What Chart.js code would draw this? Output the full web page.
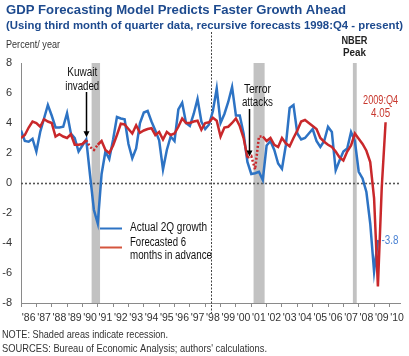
<!DOCTYPE html>
<html><head><meta charset="utf-8">
<script src="https://cdn.jsdelivr.net/npm/chart.js@4.4.1/dist/chart.umd.min.js"></script>
<style>html,body{margin:0;padding:0;background:#fff}#wrap{width:409px;height:356px;position:relative}</style>
</head><body><div id="wrap"><canvas id="c" width="409" height="356"></canvas></div>
<script>
// ---------- DATA ----------
const startYear = 1986;
const quarters = [];
for (let y = 1986; y <= 2009; y++) for (let q = 1; q <= 4; q++) quarters.push(y + ':Q' + q);

const actual2Q = [
  3.5, 2.8, 2.75, 2.95,   2.1, 3.4, 4.3, 5.2,    4.5, 3.7, 3.7, 3.75,   4.65, 3.3, 3.0, 2.1,
  2.5, 2.9, 0.5, -1.8,    -2.7, 0.6, 2.1, 1.6,   2.9, 4.4, 4.3, 4.25,   2.6, 1.65, 2.3, 4.0,
  4.7, 4.8, 4.1, 3.5,     2.85, 0.9, 2.2, 3.1,   2.8, 4.9, 5.35, 4.0,   3.8, 4.6, 5.6, 4.1,
  3.6, 3.9, 4.8, 6.3,     4.0, 4.6, 5.4, 6.4,    4.5, 4.5, 3.3, 1.4,    0.6, 0.65, 0.75, 0.2,
  2.5, 2.8, 2.2, 1.3,     0.95, 2.5, 5.0, 5.2,   3.3, 2.9, 3.0, 3.3,    3.6, 2.8, 2.4, 2.8,
  3.75, 3.4, 0.85, 1.5,   2.1, 2.3, 3.4, 2.8,    0.75, 0.3, -0.6, -2.7, -5.9, -3.8
];
const forecast6m = [
  3.0, 3.2, 3.7, 4.1,     4.0, 3.75, 4.25, 4.1,  4.0, 3.1, 3.25, 3.1,   3.0, 3.25, 2.55, 2.55,
  2.6, 2.85, 2.4, 2.2,    2.55, 2.8, 2.2, 2.0,   2.5, 3.2, 3.95, 3.9,   3.6, 3.3, 3.85, 3.35,
  3.5, 3.6, 3.65, 3.2,    3.4, 2.9, 3.4, 3.2,    3.3, 3.75, 4.3, 4.0,   4.0, 4.1, 4.15, 3.55,
  4.0, 4.05, 4.35, 4.15,  3.1, 3.7, 3.75, 4.0,   4.3, 3.8, 3.0, 1.7,    1.8, 0.9, 3.1, 3.1,
  2.8, 3.0, 2.55, 2.4,    3.0, 2.65, 2.45, 3.0,  3.5, 4.1, 4.2, 4.0,    3.8, 3.6, 3.0, 2.75,
  2.55, 2.4, 2.1, 1.7,    1.5, 2.1, 2.5, 3.3,    2.95, 2.6, 2.15, 1.4,  -1.0, -6.9, -0.3, 4.05
];
// forecast quarters drawn dotted (Kuwait invasion, terror attacks): [firstIndex, lastIndex]
const dottedForecastRanges = [[17, 20], [59, 63]];
// recessions (shaded), in fractional years
const recessions = [[1990.6, 1991.15], [2001.15, 2001.87], [2007.62, 2007.87]];
const forecastStart = 1998.37;
const xTickLabels = ["'86","'87","'88","'89","'90","'91","'92","'93","'94","'95","'96","'97","'98","'99","'00","'01","'02","'03","'04","'05","'06","'07","'08","'09","'10"];
const yTicks = [-8, -6, -4, -2, 0, 2, 4, 6, 8];
const lastActualLabel = '-3.8';
const lastForecastLabel = ['2009:Q4', '4.05'];

// ---------- BUILD ----------
const qToX = s => { const [y, q] = s.split(':Q'); return +y + (+q - 1) / 4; };
const blueData = actual2Q.map((v, i) => ({ x: qToX(quarters[i]), y: v }));
const redData = forecast6m.map((v, i) => ({ x: qToX(quarters[i]), y: v }));
const isDotted = i => dottedForecastRanges.some(([a, b]) => i >= a && i < b);

const BLUE = '#2d73c4', RED = '#c9282b', NAVY = '#1d4a8e';
const FAM = "'Liberation Sans', Arial, Helvetica, sans-serif";

function txt(ctx, s, x, y, o) {
  ctx.save();
  ctx.font = (o.weight || 'normal') + ' ' + o.size + 'px ' + FAM;
  ctx.fillStyle = o.color || '#111';
  ctx.textBaseline = 'middle';
  ctx.textAlign = 'left';
  const w = ctx.measureText(s).width;
  const sx = o.width ? o.width / w : (o.sx || 1);
  const tw = w * sx;
  let x0 = x;
  if (o.align === 'center') x0 = x - tw / 2;
  else if (o.align === 'right') x0 = x - tw;
  ctx.translate(x0, y);
  ctx.scale(sx, 1);
  ctx.fillText(s, 0, 0);
  ctx.restore();
}
function arrow(ctx, x, y1, y2) {
  ctx.save();
  ctx.strokeStyle = '#000'; ctx.fillStyle = '#000'; ctx.lineWidth = 1.5;
  ctx.beginPath(); ctx.moveTo(x, y1); ctx.lineTo(x, y2 - 5); ctx.stroke();
  ctx.beginPath(); ctx.moveTo(x - 3, y2 - 6); ctx.lineTo(x + 3, y2 - 6); ctx.lineTo(x, y2); ctx.closePath(); ctx.fill();
  ctx.restore();
}

const backdrop = {
  id: 'backdrop',
  beforeDatasetsDraw(chart) {
    const { ctx, chartArea: a, scales: { x, y } } = chart;
    ctx.save();
    ctx.fillStyle = '#c2c2c2';
    recessions.forEach(([s, e]) => {
      const x1 = x.getPixelForValue(s), x2 = x.getPixelForValue(e);
      ctx.fillRect(x1, a.top, x2 - x1, a.bottom - a.top);
    });
    // zero line
    const y0 = Math.round(y.getPixelForValue(0)) + 0.5;
    ctx.strokeStyle = '#555'; ctx.lineWidth = 1.6; ctx.setLineDash([2, 2]);
    ctx.beginPath(); ctx.moveTo(a.left, y0); ctx.lineTo(a.right, y0); ctx.stroke();
    // forecast start line
    const xv = Math.round(x.getPixelForValue(forecastStart)) + 0.5;
    ctx.strokeStyle = '#444'; ctx.lineWidth = 1; ctx.setLineDash([2, 1.5]);
    ctx.beginPath(); ctx.moveTo(xv, 32); ctx.lineTo(xv, a.bottom + 10); ctx.stroke();
    ctx.restore();
  },
  afterDraw(chart) {
    const { ctx, chartArea: a, scales: { x, y } } = chart;
    // titles
    txt(ctx, 'GDP Forecasting Model Predicts Faster Growth Ahead', 6, 10, { size: 13.5, weight: 'bold', color: NAVY, width: 340 });
    txt(ctx, '(Using third month of quarter data, recursive forecasts 1998:Q4 - present)', 6, 26, { size: 11.5, weight: 'bold', color: NAVY, width: 397 });
    txt(ctx, 'Percent/ year', 6, 45, { size: 10.5, color: '#333', width: 54 });
    // NBER
    const xn = x.getPixelForValue(recessions[2][0]) + 1.5;
    txt(ctx, 'NBER', xn, 41, { size: 10.5, weight: 'bold', color: '#222', align: 'center', width: 26 });
    txt(ctx, 'Peak', xn, 53, { size: 10.5, weight: 'bold', color: '#222', align: 'center', width: 23 });
    // Kuwait
    const xk = x.getPixelForValue(qToX(quarters[dottedForecastRanges[0][0]]));
    txt(ctx, 'Kuwait', xk - 4, 73, { size: 12, color: '#111', align: 'center', width: 30 });
    txt(ctx, 'invaded', xk - 4, 87, { size: 12, color: '#111', align: 'center', width: 34 });
    arrow(ctx, Math.round(xk) + 0.5, 92, y.getPixelForValue(forecast6m[dottedForecastRanges[0][0]]) - 3);
    // Terror
    const xt = x.getPixelForValue(qToX(quarters[dottedForecastRanges[1][0]]));
    txt(ctx, 'Terror', xt + 10, 90, { size: 12, color: '#111', align: 'center', width: 27 });
    txt(ctx, 'attacks', xt + 10, 102.5, { size: 12, color: '#111', align: 'center', width: 31 });
    arrow(ctx, Math.round(xt + 2) + 0.5, 109, y.getPixelForValue(forecast6m[dottedForecastRanges[1][0]]) - 1);
    // end labels
    const lastR = redData[redData.length - 1];
    const xr = x.getPixelForValue(lastR.x) - 5;
    txt(ctx, lastForecastLabel[0], xr, 101, { size: 12, color: '#c8372d', align: 'center', width: 35 });
    txt(ctx, lastForecastLabel[1], xr, 114, { size: 12, color: '#c8372d', align: 'center', width: 19 });
    const lastB = blueData[blueData.length - 1];
    txt(ctx, lastActualLabel, x.getPixelForValue(lastB.x) + 3.5, y.getPixelForValue(lastB.y) + 0.5, { size: 12, color: '#4a82d3', width: 17 });
    // legend
    ctx.save();
    ctx.lineWidth = 2;
    ctx.strokeStyle = BLUE; ctx.beginPath(); ctx.moveTo(100, 228.5); ctx.lineTo(122, 228.5); ctx.stroke();
    ctx.strokeStyle = '#d4553d'; ctx.beginPath(); ctx.moveTo(100, 247.5); ctx.lineTo(122, 247.5); ctx.stroke();
    ctx.restore();
    txt(ctx, 'Actual 2Q growth', 130, 228, { size: 12, color: '#111', width: 77 });
    txt(ctx, 'Forecasted 6', 130, 243, { size: 12, color: '#111', width: 56 });
    txt(ctx, 'months in advance', 130, 255.5, { size: 12, color: '#111', width: 82 });
    // footer
    txt(ctx, 'NOTE: Shaded areas indicate recession.', 2, 335.5, { size: 10.7, color: '#333', width: 166 });
    txt(ctx, "SOURCES: Bureau of Economic Analysis; authors' calculations.", 2, 349, { size: 10.7, color: '#333', width: 265 });
  }
};

new Chart(document.getElementById('c'), {
  type: 'line',
  data: {
    datasets: [
      {
        label: 'Forecasted 6 months in advance', data: redData, borderColor: RED, borderWidth: 2.5,
        pointRadius: 0, tension: 0, order: 0, fill: false,
        segment: { borderDash: c => isDotted(c.p0DataIndex) ? [2, 2] : undefined }
      },
      {
        label: 'Actual 2Q growth', data: blueData, borderColor: BLUE, borderWidth: 2.5,
        pointRadius: 0, tension: 0, order: 1, fill: false
      }
    ]
  },
  options: {
    responsive: false, animation: false, devicePixelRatio: 1,
    layout: { padding: { top: 63, right: 7, bottom: 0, left: 0 } },
    plugins: { legend: { display: false }, tooltip: { enabled: false }, title: { display: false } },
    scales: {
      x: {
        type: 'linear', min: 1986, max: 2010.71,
        afterBuildTicks: s => { s.ticks = xTickLabels.map((l, i) => ({ value: startYear + 0.5 + i })); },
        afterFit: s => { s.height = 53; },
        ticks: { callback: (v, i) => xTickLabels[i], autoSkip: false, maxRotation: 0, minRotation: 0, padding: 5,
                 font: { family: FAM, size: 10.5 }, color: '#333' },
        grid: { display: true, drawOnChartArea: false, offset: true, tickLength: 4, color: '#8a8a8a', lineWidth: 1 },
        border: { display: true, color: '#8a8a8a', width: 1 }
      },
      y: {
        min: -8, max: 8,
        afterBuildTicks: s => { s.ticks = yTicks.map(v => ({ value: v })); },
        afterFit: s => { s.width = 21; },
        ticks: { padding: 9, font: { family: FAM, size: 11 }, color: '#333' },
        grid: { display: false, drawTicks: false },
        border: { display: true, color: '#8a8a8a', width: 1 }
      }
    }
  },
  plugins: [backdrop]
});
</script></body></html>
